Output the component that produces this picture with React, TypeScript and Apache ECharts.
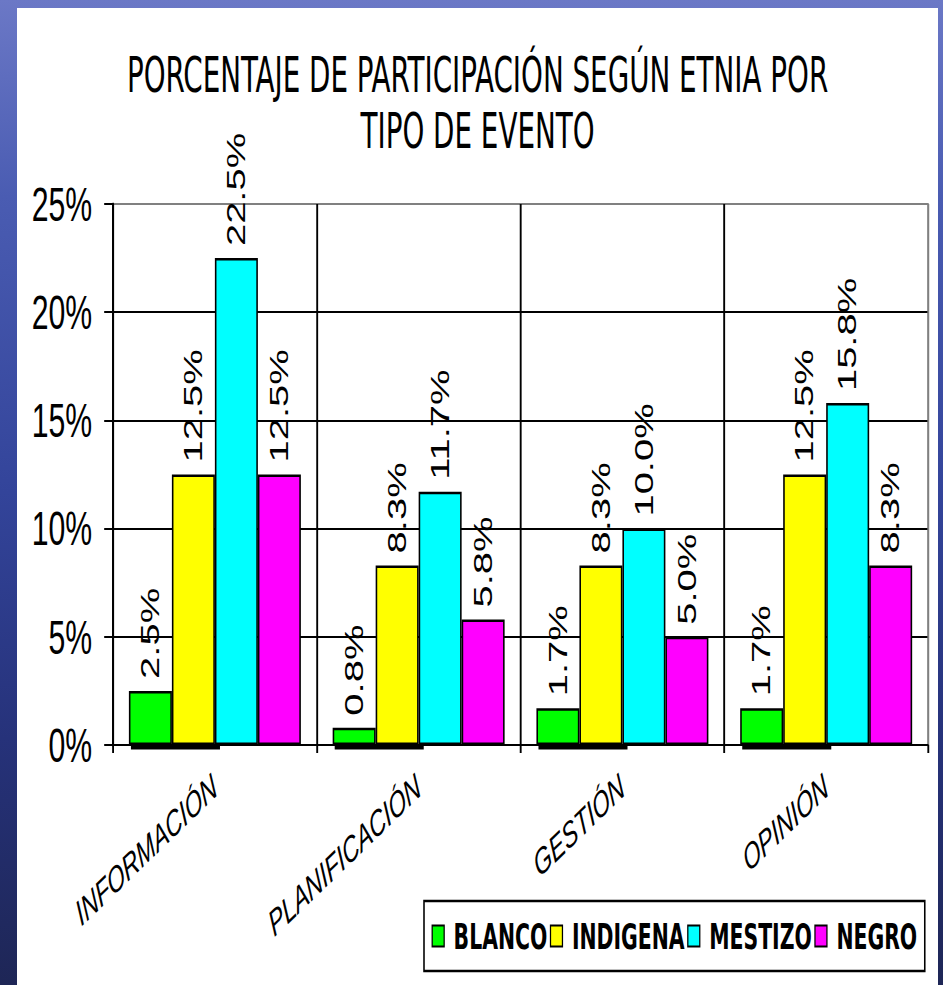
import React, { useEffect, useRef } from 'react';
import * as echarts from 'echarts';

const categories = ['INFORMACIÓN', 'PLANIFICACIÓN', 'GESTIÓN', 'OPINIÓN'];
const seriesNames = ['BLANCO', 'INDIGENA', 'MESTIZO', 'NEGRO'];
const blanco = [2.5, 0.8, 1.7, 1.7];
const indigena = [12.5, 8.3, 8.3, 12.5];
const mestizo = [22.5, 11.7, 10.0, 15.8];
const negro = [12.5, 5.8, 5.0, 8.3];
const seriesColors = ['#00ff00', '#ffff00', '#00ffff', '#ff00ff'];
const yMin = 0;
const yMax = 25;
const yStep = 5;
const titleLines = ['PORCENTAJE DE PARTICIPACIÓN SEGÚN ETNIA POR', 'TIPO DE EVENTO'];

// the reference is horizontally squeezed; render wider, then scale on X
const SX = 0.63;
const PANEL_LEFT = 17;
const PANEL_TOP = 8;
const PANEL_W = 921;
const PAGE_W = 943;
const PAGE_H = 985;

const NARROW = '"Liberation Sans Narrow", "Arial Narrow", "DejaVu Sans Condensed", "Liberation Sans", sans-serif';
const ARIAL = '"Liberation Sans", Arial, sans-serif';

export default function App() {
  const ref = useRef<HTMLDivElement | null>(null);

  useEffect(() => {
    if (!ref.current) return;
    const chart = echarts.init(ref.current, undefined, { renderer: 'svg' });
    const valueSets = [blanco, indigena, mestizo, negro];

    const barSeries = seriesNames.map((name, i) => ({
      name,
      type: 'bar',
      data: valueSets[i],
      barGap: '0%',
      barCategoryGap: '15.6%',
      itemStyle: { color: seriesColors[i], borderColor: '#000', borderWidth: 2.5 },
      label: {
        show: true,
        position: 'top',
        rotate: 90,
        align: 'left',
        verticalAlign: 'middle',
        distance: 12,
        fontSize: 40,
        fontFamily: ARIAL,
        color: '#000',
        formatter: (p: any) => Number(p.value).toFixed(1) + '%',
      },
      z: 3,
    }));

    const underline = {
      type: 'custom',
      silent: true,
      data: categories.map((_, i) => [i, 0]),
      encode: { x: 0, y: 1 },
      renderItem: (params: any, api: any) => {
        const p = api.coord([api.value(0), 0]);
        const w = api.size([1, 0])[0];
        return {
          type: 'rect',
          shape: { x: p[0] - 0.412 * w, y: p[1] + 1, width: 0.437 * w, height: 3.5 },
          style: { fill: '#000' },
        };
      },
      z: 1,
    };

    chart.setOption({
      animation: false,
      backgroundColor: 'transparent',
      textStyle: { fontFamily: ARIAL },
      title: {
        text: titleLines.join('\n'),
        left: 'center',
        top: 42,
        textStyle: {
          fontSize: 49,
          lineHeight: 56,
          fontWeight: 'normal',
          fontFamily: NARROW,
          color: '#000',
        },
      },
      legend: {
        data: seriesNames,
        left: (424 - PANEL_LEFT) / SX,
        top: 901,
        orient: 'horizontal',
        icon: 'rect',
        itemWidth: 19,
        itemHeight: 21,
        itemGap: 4,
        padding: [17, 12, 17, 12],
        borderColor: '#000',
        borderWidth: 2.5,
        backgroundColor: '#fff',
        textStyle: {
          fontSize: 36,
          fontWeight: 'bold',
          fontFamily: NARROW,
          color: '#000',
          padding: [0, 0, 0, 10],
        },
      },
      grid: {
        left: (113 - PANEL_LEFT) / SX,
        right: (PANEL_LEFT + PANEL_W - 928) / SX,
        top: 204,
        bottom: PAGE_H - 745,
        show: true,
        borderColor: '#808080',
        borderWidth: 2,
        backgroundColor: 'transparent',
      },
      xAxis: {
        type: 'category',
        data: categories,
        axisLine: { show: true, lineStyle: { color: '#000', width: 2 } },
        axisTick: { show: true, length: 8, lineStyle: { color: '#000', width: 3 } },
        splitLine: {
          show: true,
          lineStyle: { color: ['#000', '#000', '#000', '#000', '#808080'], width: 3 },
        },
        axisLabel: {
          interval: 0,
          rotate: 31.3,
          margin: 38,
          fontSize: 36,
          fontStyle: 'italic',
          fontFamily: ARIAL,
          color: '#000',
        },
      },
      yAxis: {
        type: 'value',
        min: yMin,
        max: yMax,
        interval: yStep,
        axisLine: { show: true, lineStyle: { color: '#000', width: 3.2 } },
        axisTick: { show: true, length: 14, lineStyle: { color: '#000', width: 2 } },
        splitLine: {
          show: true,
          lineStyle: { color: ['#000', '#000', '#000', '#000', '#000', '#808080'], width: 2 },
        },
        axisLabel: {
          formatter: '{value}%',
          fontSize: 48,
          margin: 33,
          color: '#000',
          fontFamily: ARIAL,
        },
      },
      series: [...barSeries, underline],
    });

    return () => {
      chart.dispose();
    };
  }, []);

  return (
    <div
      style={{
        position: 'absolute',
        left: 0,
        top: 0,
        width: PAGE_W,
        height: PAGE_H,
        overflow: 'hidden',
        background:
          'linear-gradient(180deg, #6b78c6 0%, #4a5cb2 20%, #33449a 50%, #26327a 75%, #1e2656 100%)',
      }}
    >
      <div
        style={{
          position: 'absolute',
          left: PANEL_LEFT,
          top: PANEL_TOP,
          width: PANEL_W,
          height: PAGE_H - PANEL_TOP,
          background: '#fff',
        }}
      />
      <div
        ref={ref}
        style={{
          position: 'absolute',
          left: PANEL_LEFT,
          top: 0,
          width: PANEL_W / SX,
          height: PAGE_H,
          transform: `scaleX(${SX})`,
          transformOrigin: '0 0',
        }}
      />
    </div>
  );
}
